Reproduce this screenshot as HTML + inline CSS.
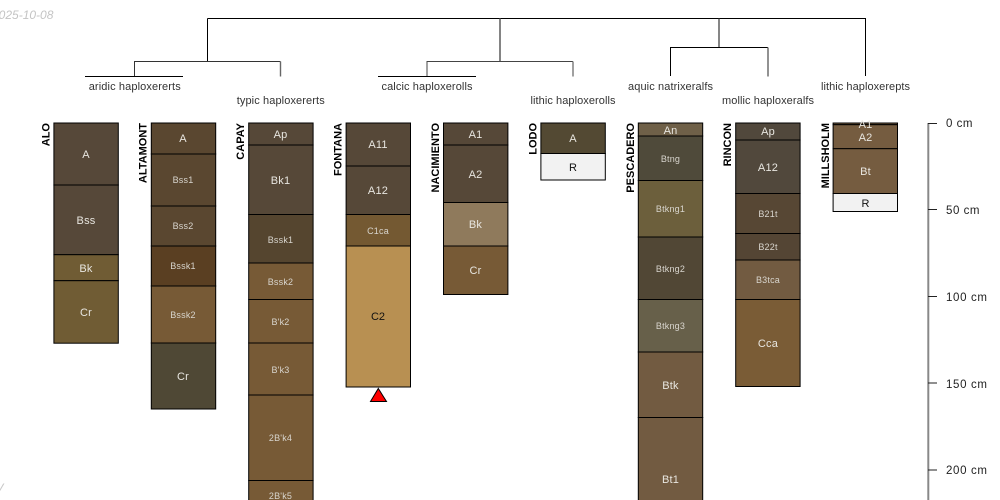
<!DOCTYPE html>
<html>
<head>
<meta charset="utf-8">
<style>
html,body{margin:0;padding:0;background:#fff;}
svg{display:block;}
text{font-family:"Liberation Sans",sans-serif;}
.n{font-size:11px;font-weight:bold;fill:#000;text-anchor:end;}
.t{font-size:11px;fill:#333;text-anchor:middle;}
.l{font-size:11px;fill:#e8e6e0;text-anchor:middle;letter-spacing:.2px;}
.s{font-size:9px;fill:#d8d5ce;text-anchor:middle;letter-spacing:.2px;}
.d{font-size:11.5px;fill:#222;}
.b{stroke:#000;stroke-width:1;}
</style>
</head>
<body>
<svg width="1000" height="500" viewBox="0 0 1000 500" xmlns="http://www.w3.org/2000/svg">
<text x="-8" y="19" font-size="12" font-style="italic" fill="#c4c4c4">2025-10-08</text>
<text x="-4.5" y="492" font-size="12" font-style="italic" fill="#c8c8c8">V</text>

<g fill="none" stroke="#000" stroke-width="1">
<path d="M207.5 18.5H865.5V76M207.5 18.5V61.5"/>
<path d="M500 18.5V61.5" stroke="#666" stroke-width="1.6"/>
<path d="M719 18.5V47" stroke="#444" stroke-width="1.3"/>
<path d="M134.5 76V61.5H280.5" stroke="#333"/>
<path d="M280.5 61.5V76.5" stroke="#666" stroke-width="1.4"/>
<path d="M85 76.5H183"/>
<path d="M427 76V61.5H573" stroke="#444"/>
<path d="M573 61.5V76.5" stroke="#777" stroke-width="1.4"/>
<path d="M378 76.5H476"/>
<path d="M670.5 76V47.5H768"/>
<path d="M768 47.5V76.5" stroke="#777" stroke-width="1.6"/>
</g>

<g>
<text class="t" x="134.7" y="90" textLength="92">aridic haploxererts</text>
<text class="t" x="280.7" y="104" textLength="88">typic haploxererts</text>
<text class="t" x="427" y="90" textLength="91">calcic haploxerolls</text>
<text class="t" x="573" y="104" textLength="85">lithic haploxerolls</text>
<text class="t" x="670.5" y="90" textLength="85">aquic natrixeralfs</text>
<text class="t" x="768" y="104" textLength="92">mollic haploxeralfs</text>
<text class="t" x="865.5" y="90" textLength="89">lithic haploxerepts</text>
</g>

<!-- ALO -->
<g class="b">
<rect x="53.9" y="123" width="64.4" height="62" fill="#564839"/>
<rect x="53.9" y="185" width="64.4" height="69.7" fill="#564839"/>
<rect x="53.9" y="254.7" width="64.4" height="26" fill="#705c34"/>
<rect x="53.9" y="280.7" width="64.4" height="62.5" fill="#705c34"/>
</g>
<text class="l" x="86" y="158">A</text>
<text class="l" x="86" y="224">Bss</text>
<text class="l" x="86" y="272">Bk</text>
<text class="l" x="86" y="316">Cr</text>
<text class="n" transform="translate(49.5,123) rotate(-90)">ALO</text>

<!-- ALTAMONT -->
<g class="b">
<rect x="151.3" y="123" width="64.4" height="31" fill="#5a4730"/>
<rect x="151.3" y="154" width="64.4" height="52" fill="#5a4730"/>
<rect x="151.3" y="206" width="64.4" height="40" fill="#5a4730"/>
<rect x="151.3" y="246" width="64.4" height="40" fill="#5a3f22"/>
<rect x="151.3" y="286" width="64.4" height="57" fill="#775a36"/>
<rect x="151.3" y="343" width="64.4" height="66" fill="#4f4835"/>
</g>
<text class="l" x="183" y="142">A</text>
<text class="s" x="183" y="183">Bss1</text>
<text class="s" x="183" y="229">Bss2</text>
<text class="s" x="183" y="269">Bssk1</text>
<text class="s" x="183" y="318">Bssk2</text>
<text class="l" x="183" y="380">Cr</text>
<text class="n" transform="translate(146.5,123) rotate(-90)">ALTAMONT</text>

<!-- CAPAY -->
<g class="b">
<rect x="248.7" y="123" width="64.4" height="22" fill="#564838"/>
<rect x="248.7" y="145" width="64.4" height="69.5" fill="#564838"/>
<rect x="248.7" y="214.5" width="64.4" height="48.5" fill="#55452f"/>
<rect x="248.7" y="263" width="64.4" height="36.5" fill="#775a36"/>
<rect x="248.7" y="299.5" width="64.4" height="43.5" fill="#775a36"/>
<rect x="248.7" y="343" width="64.4" height="52" fill="#775a36"/>
<rect x="248.7" y="395" width="64.4" height="85.5" fill="#775a36"/>
<rect x="248.7" y="480.5" width="64.4" height="40" fill="#775a36"/>
</g>
<text class="l" x="280.5" y="138">Ap</text>
<text class="l" x="280.5" y="184">Bk1</text>
<text class="s" x="280.5" y="243">Bssk1</text>
<text class="s" x="280.5" y="285">Bssk2</text>
<text class="s" x="280.5" y="325">B'k2</text>
<text class="s" x="280.5" y="373">B'k3</text>
<text class="s" x="280.5" y="441">2B'k4</text>
<text class="s" x="280.5" y="499">2B'k5</text>
<text class="n" transform="translate(244,123) rotate(-90)">CAPAY</text>

<!-- FONTANA -->
<g class="b">
<rect x="346.1" y="123" width="64.4" height="43" fill="#564838"/>
<rect x="346.1" y="166" width="64.4" height="48.5" fill="#564838"/>
<rect x="346.1" y="214.5" width="64.4" height="31.5" fill="#745932"/>
<rect x="346.1" y="246" width="64.4" height="141" fill="#b89052"/>
</g>
<text class="l" x="378" y="148">A11</text>
<text class="l" x="378" y="194">A12</text>
<text class="s" x="378" y="234">C1ca</text>
<text class="t" x="378" y="320" style="fill:#111">C2</text>
<text class="n" transform="translate(341.5,123) rotate(-90)">FONTANA</text>
<polygon points="378.3,388.5 386.5,401.5 370.5,401.5" fill="#f00" stroke="#000" stroke-width="1"/>

<!-- NACIMIENTO -->
<g class="b">
<rect x="443.5" y="123" width="64.4" height="22" fill="#564838"/>
<rect x="443.5" y="145" width="64.4" height="57.5" fill="#564838"/>
<rect x="443.5" y="202.5" width="64.4" height="43.5" fill="#8f7a5c"/>
<rect x="443.5" y="246" width="64.4" height="48.5" fill="#775a36"/>
</g>
<text class="l" x="475.5" y="138">A1</text>
<text class="l" x="475.5" y="178">A2</text>
<text class="l" x="475.5" y="228">Bk</text>
<text class="l" x="475.5" y="274">Cr</text>
<text class="n" transform="translate(439,123) rotate(-90)">NACIMIENTO</text>

<!-- LODO -->
<g class="b">
<rect x="540.9" y="123" width="64.4" height="30.5" fill="#534933"/>
<rect x="540.9" y="153.5" width="64.4" height="26.5" fill="#f2f2f2"/>
</g>
<text class="l" x="573" y="142">A</text>
<text class="t" x="573" y="171" style="fill:#111">R</text>
<text class="n" transform="translate(536.5,123) rotate(-90)">LODO</text>

<!-- PESCADERO -->
<g class="b">
<rect x="638.3" y="123" width="64.4" height="13" fill="#6f6048"/>
<rect x="638.3" y="136" width="64.4" height="44.5" fill="#4f4a3a"/>
<rect x="638.3" y="180.5" width="64.4" height="56.5" fill="#6c5f3c"/>
<rect x="638.3" y="237" width="64.4" height="62.5" fill="#514735"/>
<rect x="638.3" y="299.5" width="64.4" height="52.5" fill="#67604a"/>
<rect x="638.3" y="352" width="64.4" height="65.5" fill="#725b41"/>
<rect x="638.3" y="417.5" width="64.4" height="100" fill="#725b41"/>
</g>
<text class="l" x="670.5" y="134">An</text>
<text class="s" x="670.5" y="162">Btng</text>
<text class="s" x="670.5" y="212">Btkng1</text>
<text class="s" x="670.5" y="272">Btkng2</text>
<text class="s" x="670.5" y="329">Btkng3</text>
<text class="l" x="670.5" y="389">Btk</text>
<text class="l" x="670.5" y="483">Bt1</text>
<text class="n" transform="translate(634,123) rotate(-90)">PESCADERO</text>

<!-- RINCON -->
<g class="b">
<rect x="735.7" y="123" width="64.4" height="17" fill="#51483c"/>
<rect x="735.7" y="140" width="64.4" height="53.5" fill="#51483c"/>
<rect x="735.7" y="193.5" width="64.4" height="40" fill="#574734"/>
<rect x="735.7" y="233.5" width="64.4" height="26.5" fill="#544534"/>
<rect x="735.7" y="260" width="64.4" height="39.5" fill="#725b41"/>
<rect x="735.7" y="299.5" width="64.4" height="87" fill="#7a5c36"/>
</g>
<text class="l" x="768" y="135">Ap</text>
<text class="l" x="768" y="171">A12</text>
<text class="s" x="768" y="217">B21t</text>
<text class="s" x="768" y="250">B22t</text>
<text class="s" x="768" y="283">B3tca</text>
<text class="l" x="768" y="347">Cca</text>
<text class="n" transform="translate(731,123) rotate(-90)">RINCON</text>

<!-- MILLSHOLM -->
<g class="b">
<rect x="833.1" y="123" width="64.4" height="1.7" fill="#755c40"/>
<rect x="833.1" y="124.7" width="64.4" height="24" fill="#755c40"/>
<rect x="833.1" y="148.7" width="64.4" height="44.8" fill="#755c40"/>
<rect x="833.1" y="193.5" width="64.4" height="18" fill="#f2f2f2"/>
</g>
<text class="l" x="865.5" y="128">A1</text>
<text class="l" x="865.5" y="141">A2</text>
<text class="l" x="865.5" y="175">Bt</text>
<text class="t" x="865.5" y="207" style="fill:#111">R</text>
<text class="n" transform="translate(829,123) rotate(-90)">MILLSHOLM</text>

<!-- axis -->
<path d="M928.3 123V500" stroke="#888" stroke-width="2" fill="none"/>
<g stroke="#222" stroke-width="1">
<path d="M928 123.5H937"/>
<path d="M928 209.5H937"/>
<path d="M928 296.5H937"/>
<path d="M928 383H937"/>
<path d="M928 470H937"/>
</g>
<text class="d" x="946" y="127" textLength="26.5">0 cm</text>
<text class="d" x="946" y="214" textLength="33.5">50 cm</text>
<text class="d" x="946" y="301" textLength="41">100 cm</text>
<text class="d" x="946" y="388" textLength="41">150 cm</text>
<text class="d" x="946" y="474" textLength="41">200 cm</text>
</svg>
</body>
</html>
